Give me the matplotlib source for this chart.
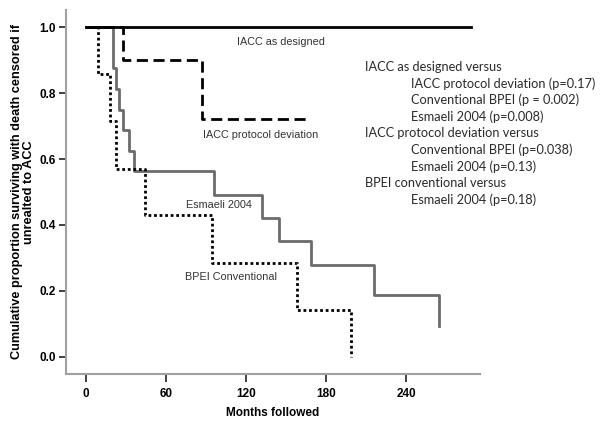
import numpy as np
import matplotlib.pyplot as plt

# Kaplan-Meier style step data (months, proportion)
designed_t = [0, 289]
designed_s = [1.0, 1.0]

deviation_t = [0, 27.7, 87, 166.5]
deviation_s = [1.0, 0.9, 0.72, 0.72]

esmaeli_t = [0, 20.2, 22.5, 24.7, 28, 32.2, 36, 96, 132, 144.7, 168.5, 216, 264.8, 264.8]
esmaeli_s = [1.0, 0.875, 0.8125, 0.75, 0.6875, 0.625, 0.5625, 0.49, 0.42, 0.35, 0.28, 0.188, 0.094, 0.094]

bpei_t = [0, 8.8, 18, 22.3, 44.2, 94.5, 158, 198.5, 198.5]
bpei_s = [1.0, 0.857, 0.714, 0.571, 0.429, 0.286, 0.143, 0.0, 0.0]

xticks = [0, 60, 120, 180, 240]
yticks = [0.0, 0.2, 0.4, 0.6, 0.8, 1.0]

curve_labels = ["IACC as designed", "IACC protocol deviation", "Esmaeli 2004", "BPEI Conventional"]
label_pos = [(113, 0.956), (88, 0.673), (75, 0.461), (74.3, 0.2435)]

pvalue_lines = [
    ("IACC as designed versus", 0),
    ("IACC protocol deviation (p=0.17)", 1),
    ("Conventional BPEI (p = 0.002)", 1),
    ("Esmaeli 2004 (p=0.008)", 1),
    ("IACC protocol deviation versus", 0),
    ("Conventional BPEI (p=0.038)", 1),
    ("Esmaeli 2004 (p=0.13)", 1),
    ("BPEI conventional versus", 0),
    ("Esmaeli 2004 (p=0.18)", 1),
]

plt.rcParams['font.family'] = ['Liberation Sans', 'DejaVu Sans']

fig = plt.figure(figsize=(6.04, 4.25), dpi=100)
ax = fig.add_axes([0.1088, 0.12, 0.6859, 0.8565])

ax.step(esmaeli_t, esmaeli_s, where='post', color='#6b6b6b', lw=2)
ax.step(bpei_t, bpei_s, where='post', color='black', lw=2, linestyle=(0, (1, 1)))
ax.step(deviation_t, deviation_s, where='post', color='black', lw=2, linestyle=(0, (4, 2)))
ax.step(designed_t, designed_s, where='post', color='black', lw=2)

for lab, (x, y) in zip(curve_labels, label_pos):
    ax.text(x, y, lab, fontsize=7.8, color='#333333', va='center', ha='left')

ax.set_xlim(-15.2, 295.5)
ax.set_ylim(-0.052, 1.052)
ax.set_xticks(xticks)
ax.set_yticks(yticks)
ax.set_xticklabels([str(v) for v in xticks], fontweight='bold', fontsize=8.5)
ax.set_yticklabels(["%.1f" % v for v in yticks], fontweight='bold', fontsize=8.5)
ax.tick_params(axis='x', length=6, width=1.2, color='#222222', pad=4)
ax.tick_params(axis='y', length=5, width=1.2, color='#222222', pad=2)

for s in ['top', 'right']:
    ax.spines[s].set_visible(False)
for s in ['left', 'bottom']:
    ax.spines[s].set_color('#a0a0a0')
    ax.spines[s].set_linewidth(1.5)

ax.set_xlabel("Months followed", fontweight='bold', fontsize=8.5, labelpad=5)
ax.set_ylabel("Cumulative proportion surviving with death censored if\nunrealted to ACC",
              fontweight='bold', fontsize=9.2, linespacing=1.0)
ax.yaxis.set_label_coords(-0.074, 0.5)

y_px = 66.7
for txt, indent in pvalue_lines:
    xpx = 411 if indent else 365
    fig.text(xpx / 604, 1 - y_px / 425, txt, fontsize=9.2, family=['Lato', 'DejaVu Sans'],
             color='#2a2a2a', va='center', ha='left')
    y_px += 16.67

fig.savefig("out.png", dpi=100)
